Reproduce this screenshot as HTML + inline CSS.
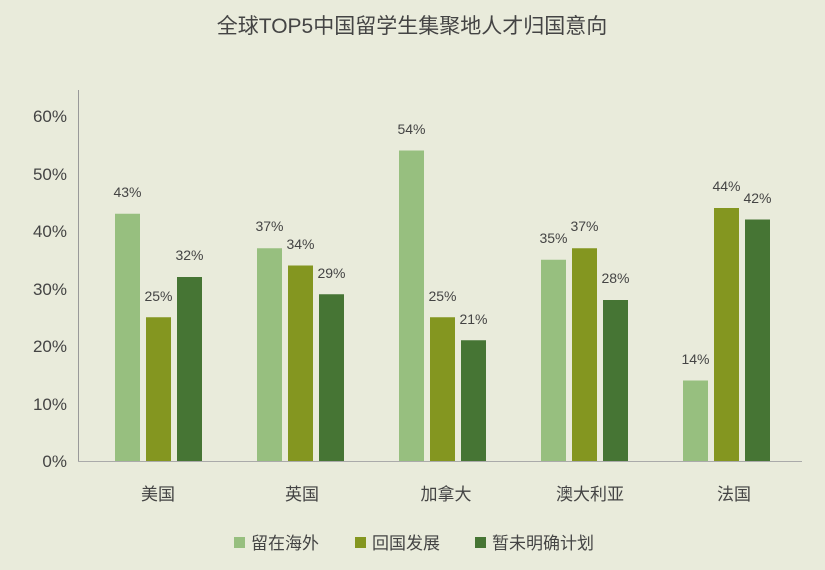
<!DOCTYPE html>
<html><head><meta charset="utf-8"><style>
body{margin:0;background:#e9ebdb;}
svg text{font-family:"Liberation Sans","Noto Sans CJK SC",sans-serif;fill:#444;}
</style></head><body>
<svg width="825" height="565" xmlns="http://www.w3.org/2000/svg">
<rect width="825" height="565" fill="#e9ebdb"/>
<text x="412" y="33" font-size="21" text-anchor="middle" fill="#555">全球TOP5中国留学生集聚地人才归国意向</text>
<g font-size="17" text-anchor="end" fill="#555">
<text x="67" y="467">0%</text><text x="67" y="410">10%</text><text x="67" y="352">20%</text>
<text x="67" y="295">30%</text><text x="67" y="237">40%</text><text x="67" y="180">50%</text><text x="67" y="122">60%</text>
</g>
<line x1="78.5" y1="90" x2="78.5" y2="461" stroke="#999"/>
<g fill="#97bf7f">
<rect x="115" y="213.75" width="25" height="247.25"/>
<rect x="257" y="248.25" width="25" height="212.75"/>
<rect x="399" y="150.5" width="25" height="310.5"/>
<rect x="541" y="259.75" width="25" height="201.25"/>
<rect x="683" y="380.5" width="25" height="80.5"/>
</g>
<g fill="#849620">
<rect x="146" y="317.25" width="25" height="143.75"/>
<rect x="288" y="265.5" width="25" height="195.5"/>
<rect x="430" y="317.25" width="25" height="143.75"/>
<rect x="572" y="248.25" width="25" height="212.75"/>
<rect x="714" y="208" width="25" height="253"/>
</g>
<g fill="#467534">
<rect x="177" y="277" width="25" height="184"/>
<rect x="319" y="294.25" width="25" height="166.75"/>
<rect x="461" y="340.25" width="25" height="120.75"/>
<rect x="603" y="300" width="25" height="161"/>
<rect x="745" y="219.5" width="25" height="241.5"/>
</g>
<line x1="78" y1="461.5" x2="802" y2="461.5" stroke="#aaa"/>
<g font-size="14" text-anchor="middle">
<text x="127.5" y="197">43%</text><text x="158.5" y="301">25%</text><text x="189.5" y="260">32%</text>
<text x="269.5" y="231">37%</text><text x="300.5" y="249">34%</text><text x="331.5" y="278">29%</text>
<text x="411.5" y="134">54%</text><text x="442.5" y="301">25%</text><text x="473.5" y="324">21%</text>
<text x="553.5" y="243">35%</text><text x="584.5" y="231">37%</text><text x="615.5" y="283">28%</text>
<text x="695.5" y="364">14%</text><text x="726.5" y="191">44%</text><text x="757.5" y="203">42%</text>
</g>
<g font-size="17" text-anchor="middle" fill="#444">
<text x="158" y="500">美国</text><text x="302" y="500">英国</text><text x="446" y="500">加拿大</text><text x="590" y="500">澳大利亚</text><text x="734" y="500">法国</text>
</g>
<rect x="234" y="537" width="11" height="11" fill="#97bf7f"/><text x="251" y="549" font-size="17">留在海外</text>
<rect x="355" y="537" width="11" height="11" fill="#849620"/><text x="372" y="549" font-size="17">回国发展</text>
<rect x="475" y="537" width="11" height="11" fill="#467534"/><text x="492" y="549" font-size="17">暂未明确计划</text>
</svg>
</body></html>
